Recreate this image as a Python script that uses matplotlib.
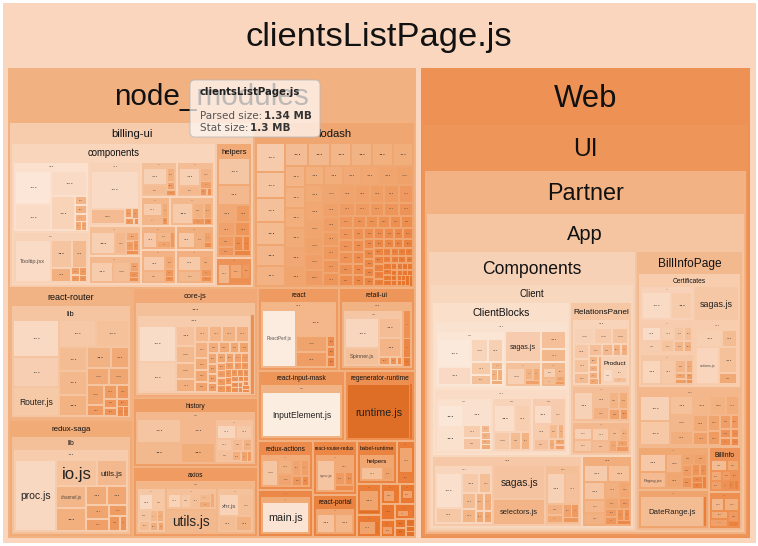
import numpy as np
import matplotlib
matplotlib.use('Agg')
import matplotlib.pyplot as plt
from matplotlib.patches import Rectangle, FancyBboxPatch
from matplotlib.textpath import TextPath
from matplotlib.font_manager import FontProperties

# ---------------- data (relative sizes) ----------------
# node_modules / billing-ui
cmp_a = [1290, 1030, 950, 890, 120, 110, 100, 60, 50]
cmp_b = [('Tooltip.jsx', 1630), 630, 450, 315, 70, 60, 60, 50]
cmp_c = [2000, 590, 80, 70, 60, 30]
cmp_d = [600, 300, 120, 80, 60, 50]
cmp_e = [560, 430, 110, 70, 50]
cmp_f = [520, 300, 150, 90, 60]
cmp_g = [480, 250, 200, 100, 60, 40]
cmp_h = [330, 200, 120, 60]
cmp_i = [560, 220, 160, 90, 50]
cmp_j = [300, 180, 120, 60]
cmp_k = [420, 300, 150, 80, 60]
cmp_l = [360, 200, 110, 50]
cmp_m = [420, 320, 180, 90, 70]
bui_components = [('', 5470, cmp_a), ('', 4000, cmp_b), ('', 3450, cmp_c),
                  ('', 1600, cmp_d), ('', 1480, cmp_e), ('', 1330, cmp_f),
                  ('', 1330, cmp_g), ('', 870, cmp_h), ('', 1280, cmp_i),
                  ('', 840, cmp_j), ('', 1230, cmp_k), ('', 900, cmp_l),
                  ('', 1320, cmp_m)]
bui_helpers = [850, 610, 310, 250, 240, 200, 170, 140, 120, 100, 80]
bui_misc = [300, 200, 150, 120]
billing_ui = [('components', 28200, bui_components),
              ('helpers', 4070, bui_helpers), ('', 1000, bui_misc)]

lodash_files = [610, 545, 505, 470, 445, 420, 372, 360, 351, 344, 338, 330,
                302, 296, 288, 281, 277, 270, 262, 259, 251, 246, 240, 233,
                229, 224, 218, 214, 206, 203, 199, 191, 188, 183, 178, 172,
                169, 166, 161, 158, 153, 150, 147, 142, 139, 136, 131, 128,
                126, 121, 118, 116, 112, 109, 107, 104, 101, 99, 96, 93, 91,
                88, 86, 83, 81, 79, 76, 74, 72, 70, 68, 66, 63, 61, 60, 58,
                56, 54, 53, 51, 49, 47, 46, 44, 43, 41, 40, 38, 37, 35, 34,
                32, 31, 30, 28, 27, 26, 24, 23, 22, 21, 20, 19, 18, 18, 17,
                16, 15, 15, 14, 13, 12]

rr_lib = [1600, 1310, ('Router.js', 1270), 970, 860, 650, 650, 600, 475,
          350, 340, 325, 300, 180, 170, 150, 120, 110, 90, 60, 50]
rs_lib = [('proc.js', 3140), ('io.js', 1120), ('utils.js', 840),
          ('channel.js', 714), 700, 420, 390, 350, 300, 210, 170, 100]
cj_files = [1330, 1120, 380, 315, 295, 250, 215, 210, 210, 205, 200, 150,
            140, 130, 125, 118, 110, 105, 98, 92, 88, 84, 80, 75, 72, 70,
            66, 64, 60, 58, 55, 52, 50, 48, 46, 44, 42, 40, 38, 36, 34, 32,
            30, 28, 26, 24, 22, 20, 18]
hist_misc = [360, 300, 250, 230, 180, 150, 130, 90, 60]
hist_files = [1080, 960, 810, 720, ('', 1800, hist_misc)]
ax_a = [280, 200, 140, 120, 110, 90, 80, 60]
ax_b = [190, 150, 120, 90, 70, 60]
ax_c = [('xhr.js', 430), 260, 234, 210]
axios_files = [('', 1130, ax_a), ('', 950, ax_b), ('utils.js', 1000),
               ('', 1440, ax_c)]
react_files = [('ReactPerf.js', 2050), 1080, 530, 500, 100, 90, 90]
retail_inner = [1120, ('Spinner.js', 630), 500, 480, 100, 60, 40]
retail_files = [('', 3600, retail_inner), 210, 140, 70]
rim_files = [('InputElement.js', 3400)]
regen_files = [('runtime.js', 3200), 150]
ra_files = [384, 170, 156, 120, 110, 88, 55]
main_files = [('main.js', 1060)]
rrr_files = [('sync.js', 416), 160, 96, 80, 70]
portal_files = [300, 280]
babel_helpers = [90, 40]
sm_a = [150, 50]
sm_b = [170, 20]
sm_c = [110, 20]
sm_d = [80, 20]
sm_e = [70, 20]
sm_f = [100]
sm_g = [60, 20]

node_modules = [
    ('billing-ui', 39200, billing_ui),
    ('lodash', 25600, lodash_files),
    ('react-router', 15755, [('lib', 1, rr_lib)]),
    ('redux-saga', 13800, [('lib', 1, [('', 1, rs_lib)])]),
    ('core-js', 13300, [('', 1, [('', 9000, cj_files), 230])]),
    ('history', 8300, [('', 1, hist_files)]),
    ('axios', 8300, [('', 1, axios_files)]),
    ('react', 6500, [('', 1, react_files)]),
    ('retail-ui', 6000, [('', 1, retail_files)]),
    ('react-input-mask', 5900, [('', 1, rim_files)]),
    ('regenerator-runtime', 4700, regen_files),
    ('redux-actions', 2550, [('', 1, ra_files)]),
    ('', 2450, [('', 1, main_files)]),
    ('react-router-redux', 2280, [('', 1, rrr_files)]),
    ('react-portal', 1800, [('', 1, portal_files)]),
    ('babel-runtime', 1620, [('helpers', 1, babel_helpers)]),
    ('', 720, sm_a), ('', 720, sm_b), ('', 480, sm_c), ('', 360, sm_d),
    ('', 290, sm_e), 216, ('', 216, sm_f), ('', 290, sm_g), 96, 96, 60, 40, 40,
]

# Web / UI / Partner / App
cb1a = [1290, 800, 530, 480, 380, 275, 120, 100, 80, 60]
cb1b = [480, 150, 120, 100]
cb1c = [280, 200, 150, 100, 60]
cb1 = [('', 4900, cb1a), ('sagas.js', 1430), ('', 1150, cb1b), 560, 420,
       ('', 780, cb1c)]
cb2a = [775, 775, 750, 350, 290, 100, 90, 70, 60]
cb2b = [('BillsList.jsx', 840), 580, 435, 300, 225]
cb2c = [500, 350, 330, 240, 200, 140, 100, 80, 60]
cb2 = [('', 3900, cb2a), ('', 2680, cb2b), ('', 2380, cb2c)]
client_blocks = [('', 10300, cb1), ('', 10000, cb2)]
rp_product = [200, 150, 100]
rp_a = [380, 340, 300, 260, 240, 200, 180, 150, 120, 100, 90, 80, 70, 60,
        50, 40, ('Product', 900, rp_product)]
rp_b = [860, 400, 350, 300, 250, 200, 150]
rp_c = [320, 300, ('reducer.js', 330), 260, 200, 150, 120, 100, 80]
relations_panel = [('', 4200, rp_a), ('', 2200, rp_b), ('', 2000, rp_c)]
g1a = [1220, 520, 480, 325, 300, 250, 200, 175, 130, 120]
g1b = [810, ('actions.js', 590), 250, 180, 165, 130, 110]
client_g1 = [('', 4300, g1a), ('sagas.js', 2090), ('selectors.js', 1600),
             ('', 2550, g1b)]
client_g2 = [460, 440, 414, 300, 276, 240, 200, 180, 150, 120, 100, 90, 80, 60]
client = [('ClientBlocks', 23500, client_blocks),
          ('RelationsPanel', 10500, relations_panel),
          ('', 11800, client_g1), ('', 3900, client_g2)]

cert_a = [890, 650]
cert_b = [520, 390, 340, 300, 255, 225, 200, 180]
cert_c = [600, 340, ('actions.js', 1100), 615, 250]
cert_d = [650, 490, 200, 120, 100, 80, 60, 40]
certificates = [('', 2100, cert_a), ('sagas.js', 1740), ('', 2050, cert_b),
                ('', 1940, cert_d), ('', 3300, cert_c)]
bip2 = [750, 730, 440, 390, 350, 330, 300, 255, 250, 210, 200, 180, 150,
        120, 100, 80, 70, 60]
bip3 = [500, ('Paging.jsx', 425), 320, 240, 140, 140, 140, 120, 90, 80, 70,
        60, 50]
date_range = [('DateRange.js', 2350), 100]
bill_info = [170, 120, 100, 90, 80, 70, 60, 50, 40]
bip_misc = [210, 224, 180, 156, 150, 60]
bill_info_page = [('Certificates', 12500, certificates), ('', 6500, bip2),
                  ('', 3200, bip3), ('', 2850, date_range),
                  ('BillInfo', 1530, bill_info), ('', 1260, bip_misc)]

app = [('Components', 59800, [('Client', 1, client)]),
       ('BillInfoPage', 30600, bill_info_page)]
web = [('UI', 1, [('Partner', 1, [('App', 1, app)])])]

top_level = [('node_modules', 192100, node_modules), ('Web', 155760, web)]

bundle_name = 'clientsListPage.js'
parsed_size = '1.34 MB'
stat_size = '1.3 MB'

# ---------------- styling ----------------
W, H = 758, 546
LABEL_FP = FontProperties(family='Liberation Sans')
TIP_FP = FontProperties(family='DejaVu Sans')
TIP_BOLD = FontProperties(family='DejaVu Sans', weight='bold')
HEADER_FRAC = {'node_modules': 0.115, 'Web': 0.12, 'UI': 0.109,
               'Partner': 0.117, 'App': 0.115, 'Components': 0.115,
               'Client': 0.072, 'BillInfoPage': 0.078, 'RelationsPanel': 0.105,
               'Certificates': 0.085}
# a few cells are lighter / darker than the size rule gives
TONE_SHIFT = {'UI': 0.15, 'lodash': 0.1, 'runtime.js': 0.35,
              'InputElement.js': -0.3, 'main.js': -0.25, 'ReactPerf.js': -0.25}
ROOT_COLOR = (249 / 255, 214 / 255, 189 / 255)
stops_t = [0.0, 0.15, 0.30, 0.45, 0.60, 0.75, 0.88, 1.0]
stops_c = np.array([(255, 253, 250), (252, 236, 224), (249, 218, 196),
                    (245, 196, 160), (241, 170, 118), (237, 142, 80),
                    (233, 118, 45), (200, 95, 25)]) / 255.0

PX = 72 / 100.0  # px -> pt at dpi 100

_em = {}


def em_width(s, fp=LABEL_FP):
    key = (s, id(fp))
    if key not in _em:
        _em[key] = TextPath((0, 0), s, size=100, prop=fp).get_extents().width / 100.0
    return _em[key]


def shade(t):
    t = min(1.0, max(0.0, t))
    return tuple(np.interp(t, stops_t, stops_c[:, i]) for i in range(3))


def parts(item):
    if isinstance(item, (int, float)):
        return '', item, None
    if len(item) == 2:
        return item[0], item[1], None
    return item


def worst(row, side):
    s = sum(row)
    th = s / side
    return max(max(th * th / a, a / (th * th)) for a in row)


def squarify(sizes, x, y, w, h):
    total = float(sum(sizes))
    areas = [s * w * h / total for s in sizes]
    rects = []
    k = 0
    while k < len(areas):
        side = max(min(w, h), 1e-6)
        row = [areas[k]]
        j = k + 1
        while j < len(areas):
            cur = worst(row, side)
            new = worst(row + [areas[j]], side)
            lim = cur * (1.4 if len(row) == 1 else 1.12)
            if new <= lim:
                row.append(areas[j])
                j += 1
            else:
                break
        th = sum(row) / side
        pos = 0.0
        for a in row:
            ln = a / th
            if w >= h:
                rects.append((x, y + pos, th, ln))
            else:
                rects.append((x + pos, y, ln, th))
            pos += ln
        if w >= h:
            x += th
            w -= th
        else:
            y += th
            h -= th
        k = j
    return rects


fig = plt.figure(figsize=(W / 100, H / 100), dpi=100)
ax = fig.add_axes([0, 0, 1, 1])
ax.set_xlim(0, W)
ax.set_ylim(H, 0)
ax.axis('off')


def put_text(s, cx, cy, fs, color='#111111', dots=False, alpha=1.0):
    if fs < 2.2:
        return
    off = 0.05 * fs if dots else 0.36 * fs
    ax.text(cx, cy + off, s, fontsize=fs * PX, fontproperties=LABEL_FP,
            ha='center', va='baseline', color=color, alpha=alpha, zorder=500)


def leaf_label(name, x, y, w, h):
    if min(w, h) < 4:
        return
    if name:
        fs = min(0.75 * w / em_width(name), 0.7 * h, 24)
        if fs >= 3:
            put_text(name, x + w / 2, y + h / 2, fs, '#222222',
                     alpha=0.75 if fs < 7 else 1.0)
            return
    fs = min(10, 0.33 * min(w, h) + 2.5, 0.85 * w / em_width('...'))
    put_text('...', x + w / 2, y + h / 2, fs, '#333333', dots=True)


def child_tone(t, rel, pos, name):
    return (t + 0.35 * (0.25 - t) + 0.35 * (1 - np.sqrt(rel)) + 0.22 * pos
            + TONE_SHIFT.get(name, 0.0))


def draw(item, x, y, w, h, t, depth):
    name, size, kids = parts(item)
    ax.add_patch(Rectangle((x, y), w, h, facecolor=shade(t), edgecolor='none',
                           zorder=depth))
    if kids is None:
        leaf_label(name, x, y, w, h)
        return
    hh = HEADER_FRAC.get(name, 0.125) * h
    if name:
        hh = max(hh, min(12, 0.45 * h))
    else:
        hh = max(hh, min(5, 0.4 * h))
    if name:
        fs = min(0.55 * hh, 0.9 * w / em_width(name))
        put_text(name, x + w / 2, y + hh / 2, fs)
    else:
        fs = min(0.8 * hh, 9, 0.85 * w / em_width('...'))
        put_text('...', x + w / 2, y + hh / 2, fs, '#333333', dots=True)
    inset = 1.0 if min(w, h) > 12 else 0.4
    cx, cy, cw, ch = x + inset, y + hh, w - 2 * inset, h - hh - inset
    if cw <= 1 or ch <= 1:
        return
    sizes = [parts(k)[1] for k in kids]
    mx = max(sizes)
    for k, (rx, ry, rw, rh) in zip(kids, squarify(sizes, cx, cy, cw, ch)):
        p = min(1.0, 0.12 * min(rw, rh))
        pos = ((rx + rw / 2 - cx) / cw + (ry + rh / 2 - cy) / ch) / 2 - 0.5
        tc = child_tone(t, parts(k)[1] / mx, pos, parts(k)[0])
        draw(k, rx + p, ry + p, rw - 2 * p, rh - 2 * p, tc, depth + 1)


# root box with the bundle title
rx, ry, rw, rh = 2.5, 3.0, 753.0, 540.0
ax.add_patch(Rectangle((rx, ry), rw, rh, facecolor=ROOT_COLOR, edgecolor='none', zorder=0))
hh = 0.115 * rh
put_text(bundle_name, rx + rw / 2, ry + hh / 2, 0.555 * hh)
cx, cy, cw, ch = rx + 3, ry + hh, rw - 6, rh - hh - 3
top_sizes = [parts(k)[1] for k in top_level]
for k, (bx, by, bw, bh) in zip(top_level, squarify(top_sizes, cx, cy, cw, ch)):
    pos = ((bx + bw / 2 - cx) / cw + (by + bh / 2 - cy) / ch) / 2 - 0.5
    tc = 0.6 + 0.45 * (1 - parts(k)[1] / max(top_sizes)) + 0.35 * pos
    draw(k, bx + 2.5, by + 2.5, bw - 5, bh - 5, tc, 1)

# hover tooltip
tx, ty, tw, th = 190, 80, 130, 57
ax.add_patch(FancyBboxPatch((tx, ty), tw, th, boxstyle='round,pad=0,rounding_size=5',
                            facecolor=(1.0, 0.985, 0.975), alpha=0.72,
                            edgecolor='#b8b8b8', linewidth=0.8, zorder=1000))
line1 = 'Parsed size:'
fs_l = 108 / (em_width(line1 + ' ', TIP_FP) + 0.32 + em_width(parsed_size, TIP_BOLD))
fs_t = min(fs_l, 99 / em_width(bundle_name, TIP_BOLD))
ax.text(tx + 10, ty + 15, bundle_name, fontsize=fs_t * PX, fontproperties=TIP_BOLD,
        color='#222222', va='baseline', ha='left', zorder=1001)
for yy, lab, val in [(ty + 39, line1, parsed_size), (ty + 51, 'Stat size:', stat_size)]:
    ax.text(tx + 10, yy, lab, fontsize=fs_l * PX, fontproperties=TIP_FP,
            color='#555555', va='baseline', ha='left', zorder=1001)
    vx = tx + 10 + (em_width(lab, TIP_FP) + 0.32) * fs_l + 1
    ax.text(vx, yy, val, fontsize=fs_l * PX, fontproperties=TIP_BOLD,
            color='#333333', va='baseline', ha='left', zorder=1001)

fig.savefig('out.png', dpi=100, facecolor='white')
